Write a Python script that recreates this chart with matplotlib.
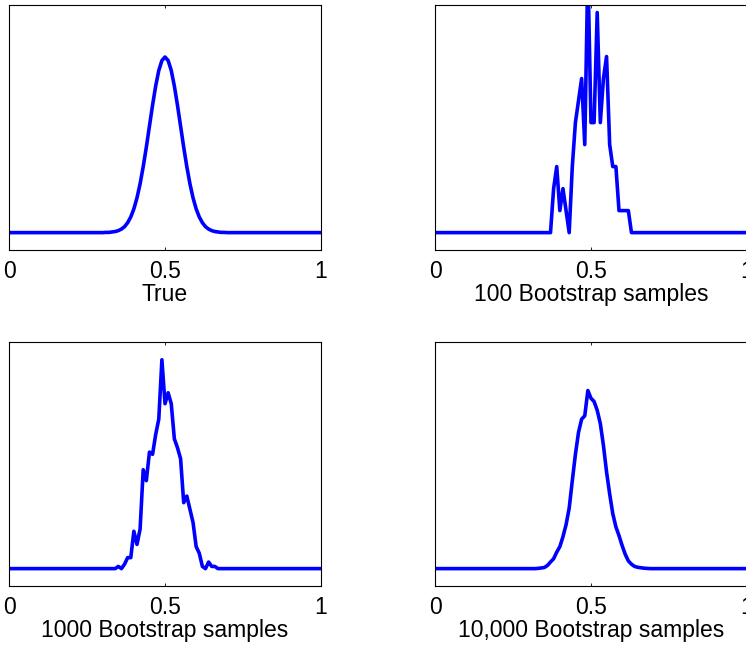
import numpy as np
import matplotlib
matplotlib.use('Agg')
import matplotlib.pyplot as plt

plt.rcParams['font.family'] = ['Liberation Sans', 'DejaVu Sans']
plt.rcParams['font.size'] = 16.5
plt.rcParams['axes.linewidth'] = 0.8

# density on a 0.01 grid from 0 to 1; each series given from its first listed x
grid = np.round(np.arange(101) * 0.01, 2)

true_start = 0.30
true_vals = [0.00, 0.01, 0.01, 0.03, 0.05, 0.09, 0.16, 0.27, 0.45, 0.71,
             1.08, 1.58, 2.22, 3.00, 3.88, 4.84, 5.79, 6.66, 7.37, 7.82,
             7.98,
             7.82, 7.37, 6.66, 5.79, 4.84, 3.88, 3.00, 2.22, 1.58, 1.08,
             0.71, 0.45, 0.27, 0.16, 0.09, 0.05, 0.03, 0.01, 0.01, 0.00]

boot100_start = 0.37
boot100_vals = [0, 2, 3, 1, 2, 1, 0, 3, 5, 6, 7, 4, 12, 5, 5, 10, 5, 7, 8, 4,
                3, 3, 1, 1, 1, 1, 0]

boot1000_start = 0.34
boot1000_vals = [0.0, 0.1, 0.0, 0.2, 0.5, 0.5, 1.7, 1.1, 1.8, 4.5, 4.0, 5.3,
                 5.2, 6.1, 6.8, 9.5, 7.5, 8.0, 7.5, 5.9, 5.5, 5.0, 3.0, 3.3,
                 2.7, 2.1, 1.0, 0.7, 0.1, 0.0, 0.3, 0.1, 0.1, 0.0]

boot10000_start = 0.32
boot10000_vals = [0.00, 0.01, 0.03, 0.05, 0.14, 0.30, 0.45, 0.75, 1.00, 1.45,
                  2.00, 2.75, 4.00, 5.20, 6.20, 6.80, 6.95, 8.10, 7.75, 7.60,
                  7.20, 6.60, 5.60, 4.40, 3.40, 2.50, 1.90, 1.50, 1.05, 0.65,
                  0.35, 0.20, 0.10, 0.06, 0.04, 0.02, 0.01, 0.00]

titles = ['True', '100 Bootstrap samples', '1000 Bootstrap samples',
          '10,000 Bootstrap samples']
series = [(true_start, true_vals), (boot100_start, boot100_vals),
          (boot1000_start, boot1000_vals), (boot10000_start, boot10000_vals)]


def on_grid(start, vals):
    y = np.zeros(len(grid))
    i = int(round(start * 100))
    y[i:i + len(vals)] = vals
    return y


fig = plt.figure(figsize=(7.46, 6.45), dpi=100)
positions = [[0.0125, 0.6124, 0.4174, 0.3794],
             [0.5835, 0.6124, 0.4174, 0.3794],
             [0.0125, 0.0915, 0.4174, 0.3790],
             [0.5835, 0.0915, 0.4174, 0.3790]]

for pos, (start, vals), title in zip(positions, series, titles):
    ax = fig.add_axes(pos)
    ax.plot(grid, on_grid(start, vals), color='#0000ff', lw=2.6)
    ax.set_xlim(0, 1)
    ax.set_ylim(-0.79, 10.33)
    ax.set_xticks([0, 0.5, 1])
    ax.set_xticklabels(['0', '0.5', '1'])
    ax.set_yticks([])
    ax.tick_params(axis='x', direction='in', top=True, length=2.5,
                   width=0.6, pad=7)
    ax.set_xlabel(title, labelpad=0)

plt.savefig('out.png', dpi=100)
